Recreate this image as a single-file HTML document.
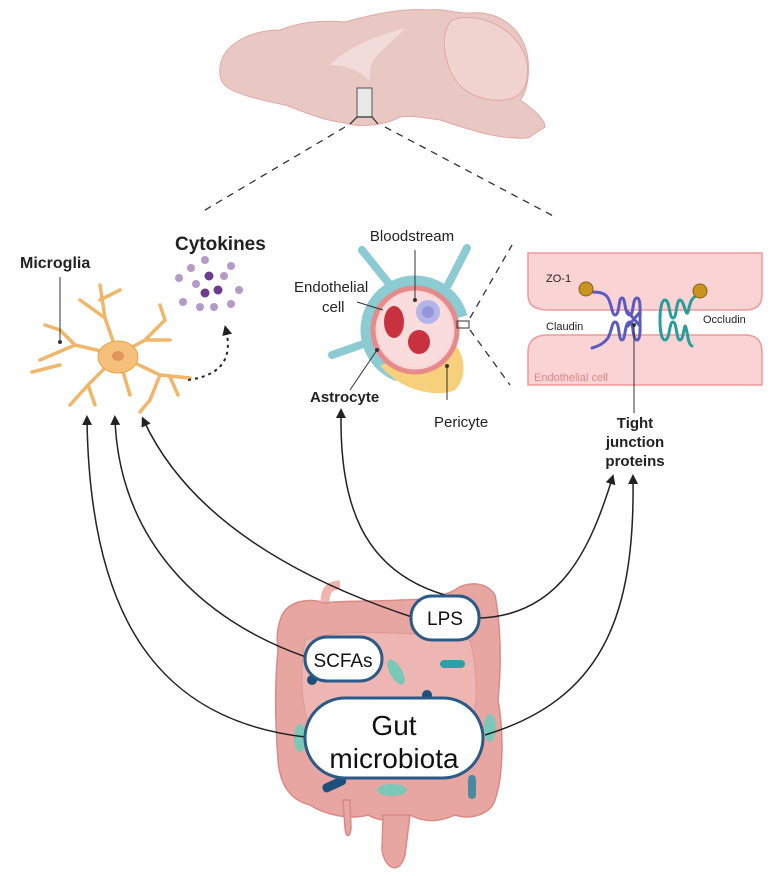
<!DOCTYPE html>
<html><head><meta charset="utf-8"><style>
body{margin:0;background:#fff}
svg{display:block;font-family:"Liberation Sans",sans-serif}
</style></head><body>
<svg width="780" height="876" viewBox="0 0 780 876" xmlns="http://www.w3.org/2000/svg">
<defs><marker id="ah" markerWidth="10" markerHeight="10" refX="5" refY="5" orient="auto" markerUnits="userSpaceOnUse">
<path d="M0,0 L10,5 L0,10 z" fill="#222"/></marker></defs>
<!-- brain -->
<path d="M220,67 C222,45 250,30 280,30 C300,22 320,20 345,22 C370,15 400,8 428,10 C445,8 455,14 470,13 C500,10 525,30 528,60 C530,80 525,95 520,100 C535,110 545,120 545,127 L528,138 C500,140 470,130 440,120 C425,118 410,115 400,117 C385,125 360,128 345,123 C320,120 300,110 285,105 C260,100 240,95 228,88 C220,82 219,75 220,67z" fill="#e9c8c4" stroke="#dfa8a4" stroke-width="1"/>
<path d="M452,20 C480,10 520,30 527,62 C530,85 522,98 505,100 C485,102 460,95 450,70 C442,50 442,30 452,20z" fill="#f0d2cf" stroke="#dfa8a4"/>
<path d="M330,65 C350,45 380,35 405,28 C395,40 380,50 372,62 C368,72 372,78 368,80 C360,70 345,65 330,65z" fill="#f2dcda"/>
<rect x="357" y="88" width="15" height="29" fill="#e8e8e8" stroke="#555" stroke-width="1"/>
<path d="M350,124 L357,117 L372,117 L378,124" fill="none" stroke="#333" stroke-width="1.3"/>
<g stroke="#333" stroke-width="1.3" stroke-dasharray="7,6" fill="none">
<path d="M345,127 L200,213"/><path d="M385,127 L557,218"/>
<path d="M470,318 L512,245"/><path d="M470,330 L510,385"/>
</g>
<!-- microglia -->
<g stroke="#f0b66a" stroke-width="3.5" fill="none" stroke-linecap="round" stroke-linejoin="round">
<path d="M118,355 L105,318 L100,285"/><path d="M105,318 L80,300"/><path d="M100,300 L120,290"/>
<path d="M118,355 L75,345 L40,360"/><path d="M75,345 L60,330 L45,325"/><path d="M60,365 L32,372"/>
<path d="M118,355 L88,385 L70,405"/><path d="M88,385 L95,405"/>
<path d="M118,355 L145,340 L165,320"/><path d="M145,340 L170,340"/><path d="M165,320 L160,305"/>
<path d="M118,355 L160,375 L190,378"/><path d="M160,375 L150,400 L140,412"/><path d="M170,377 L178,395"/>
<path d="M118,355 L130,395"/>
</g>
<ellipse cx="118" cy="357" rx="20" ry="16" fill="#f4c07a" stroke="#e8a450"/>
<ellipse cx="118" cy="356" rx="6" ry="5" fill="#e0955a"/>
<path d="M60,277 L60,342" stroke="#333" stroke-width="1"/><circle cx="60" cy="342" r="2" fill="#333"/>
<text x="20" y="268" font-size="16" font-weight="bold" fill="#222">Microglia</text>
<!-- cytokines -->
<text x="175" y="250" font-size="19" font-weight="bold" fill="#222">Cytokines</text>
<g fill="#b49ac8"><circle cx="205" cy="260" r="4"/><circle cx="231" cy="266" r="4"/><circle cx="191" cy="268" r="4"/><circle cx="224" cy="276" r="4"/><circle cx="179" cy="278" r="4"/><circle cx="196" cy="284" r="4"/><circle cx="239" cy="290" r="4"/><circle cx="183" cy="302" r="4"/><circle cx="200" cy="307" r="4"/><circle cx="214" cy="307" r="4"/><circle cx="231" cy="304" r="4"/></g>
<g fill="#6a3e8c"><circle cx="209" cy="276" r="4.5"/><circle cx="205" cy="293" r="4.5"/><circle cx="218" cy="290" r="4.5"/></g>
<path d="M188,380 C225,375 232,355 226,330" fill="none" stroke="#222" stroke-width="2" stroke-dasharray="3,4" marker-end="url(#ah)"/>
<!-- vessel -->
<g stroke="#8ccbd2" stroke-width="8" fill="none" stroke-linecap="round">
<path d="M362,250 L390,285"/><path d="M467,248 L448,285"/><path d="M332,355 L375,340"/>
</g>
<circle cx="415" cy="330" r="49" fill="none" stroke="#8ccbd2" stroke-width="11" stroke-dasharray="200,110" transform="rotate(110 415 330)"/>
<path d="M380,365 C400,392 440,398 455,390 C470,375 462,350 455,345z" fill="#f6d07a"/>
<circle cx="415" cy="330" r="42" fill="#f8d8d8" stroke="#e88a8a" stroke-width="5"/>
<circle cx="415" cy="330" r="37" fill="#fadcdc"/>
<ellipse cx="394" cy="322" rx="10" ry="16" fill="#c8323e"/>
<ellipse cx="419" cy="342" rx="11" ry="12" fill="#c8323e"/>
<circle cx="428" cy="312" r="12" fill="#b5b4e8"/><circle cx="428" cy="312" r="6" fill="#9695d8"/>
<rect x="457" y="321" width="12" height="7" fill="none" stroke="#333"/>
<text x="412" y="241" font-size="15" fill="#222" text-anchor="middle">Bloodstream</text>
<path d="M415,250 L415,300" stroke="#333"/><circle cx="415" cy="300" r="2" fill="#333"/>
<text x="294" y="292" font-size="15" fill="#222">Endothelial</text>
<text x="322" y="312" font-size="15" fill="#222">cell</text>
<path d="M357,302 L383,310" stroke="#333"/>
<path d="M350,390 L377,350" stroke="#333"/><circle cx="377" cy="350" r="2" fill="#333"/>
<text x="310" y="402" font-size="15" font-weight="bold" fill="#222">Astrocyte</text>
<path d="M447,366 L447,400" stroke="#333"/><circle cx="447" cy="366" r="2" fill="#333"/>
<text x="434" y="427" font-size="15" fill="#222">Pericyte</text>
<!-- tight junction panel -->
<path d="M528,253 L762,253 L762,295 Q762,310 745,310 L548,310 Q528,310 528,295z" fill="#fad4d4" stroke="#ec9a9a" stroke-width="1.5"/>
<path d="M528,385 L528,352 Q528,335 548,335 L745,335 Q762,335 762,352 L762,385z" fill="#fad4d4" stroke="#ec9a9a" stroke-width="1.5"/>
<text x="534" y="381" font-size="11" fill="#d88">Endothelial cell</text>
<g fill="none" stroke="#5a5ac0" stroke-width="3" stroke-linecap="round">
<path d="M592,292 C600,292 605,293 608,298 C612,305 612,315 615,315 C620,315 618,298 622,298 C626,298 624,315 630,315 C634,315 632,298 637,298 C641,298 640,312 640,318"/>
<path d="M592,348 C600,346 605,342 608,338 C612,330 612,322 615,322 C620,322 618,340 622,340 C626,340 624,322 630,322 C634,322 632,340 637,340 C641,340 640,325 640,320"/>
<path d="M628,312 L640,326 M640,312 L628,326"/>
</g>
<g fill="none" stroke="#2a9c9c" stroke-width="3" stroke-linecap="round">
<path d="M698,295 C690,298 690,305 688,312 C686,318 684,300 680,300 C676,300 677,318 673,318 C669,318 670,300 665,300 C661,300 660,312 660,318"/>
<path d="M692,346 C688,344 688,335 686,328 C684,320 684,340 680,340 C676,340 677,322 673,322 C669,322 670,340 665,340 C661,340 660,328 660,320"/>
</g>
<circle cx="586" cy="289" r="7" fill="#c8941e" stroke="#8a6010"/>
<circle cx="700" cy="291" r="7" fill="#c8941e" stroke="#8a6010"/>
<text x="546" y="282" font-size="11" fill="#222">ZO-1</text>
<text x="546" y="330" font-size="11" fill="#222">Claudin</text>
<text x="703" y="323" font-size="11" fill="#222">Occludin</text>
<path d="M634,325 L634,413" stroke="#333"/><circle cx="634" cy="325" r="2" fill="#333"/>
<text x="635" y="428" font-size="15" font-weight="bold" fill="#222" text-anchor="middle">Tight</text>
<text x="635" y="447" font-size="15" font-weight="bold" fill="#222" text-anchor="middle">junction</text>
<text x="635" y="466" font-size="15" font-weight="bold" fill="#222" text-anchor="middle">proteins</text>
<!-- gut -->
<g fill="#e8a6a2" stroke="#d98a86" stroke-width="1.5">
<path d="M282,615 C290,600 310,598 325,603 C345,600 370,602 400,600 C420,600 440,598 455,590 C465,582 485,580 495,595 C500,620 502,660 498,700 C505,740 502,780 495,800 C490,815 470,820 455,815 C440,822 425,823 410,815 C395,822 380,822 368,815 C350,820 325,815 310,805 C290,800 280,785 278,760 C275,720 275,680 278,650 C276,635 278,625 282,615z"/>
<path d="M383,815 L382,850 C385,870 400,875 405,855 L410,815z"/>
<path d="M343,800 L345,828 C346,838 350,838 351,828 L350,800z"/>
</g>
<g fill="#eeb6b2" stroke="#dc9894"><path d="M305,640 C330,630 400,630 470,640 C478,670 478,700 472,730 C430,740 350,740 310,730 C300,700 300,670 305,640z"/></g>
<path d="M325,602 C325,590 330,585 340,585" stroke="#efb4b0" stroke-width="9" fill="none"/>
<rect x="440" y="660" width="25" height="8" rx="4" fill="#2aa0a8"/>
<ellipse cx="396" cy="672" rx="6" ry="14" fill="#7ac8b8" transform="rotate(-30 396 672)"/>
<ellipse cx="300" cy="738" rx="6" ry="14" fill="#7ac8b8"/>
<ellipse cx="490" cy="728" rx="6" ry="14" fill="#7ac8b8"/>
<ellipse cx="392" cy="790" rx="15" ry="6" fill="#7ac8b8"/>
<rect x="322" y="780" width="25" height="9" rx="4" fill="#1e4e7a" transform="rotate(-25 334 785)"/>
<rect x="468" y="775" width="8" height="24" rx="4" fill="#4a8aa0"/>
<circle cx="312" cy="680" r="5" fill="#1e4e7a"/><circle cx="427" cy="695" r="5" fill="#1e4e7a"/>
<!-- arrows -->
<g fill="none" stroke="#222" stroke-width="1.5" marker-end="url(#ah)">
<path d="M305,737 C160,720 90,620 87,420"/>
<path d="M306,657 C200,620 120,540 115,420"/>
<path d="M412,617 C300,580 190,520 144,421"/>
<path d="M445,595 C360,570 340,500 341,413"/>
<path d="M480,618 C560,615 590,550 612,479"/>
<path d="M485,735 C600,700 635,620 633,479"/>
</g>
<!-- boxes -->
<g fill="#fff" stroke="#2a5a88" stroke-width="3">
<rect x="411" y="596" width="68" height="44" rx="21"/>
<rect x="305" y="637" width="77" height="44" rx="22"/>
<rect x="305" y="698" width="178" height="80" rx="40"/>
</g>
<text x="445" y="625" font-size="19" text-anchor="middle" fill="#111">LPS</text>
<text x="343" y="667" font-size="19" text-anchor="middle" fill="#111">SCFAs</text>
<text x="394" y="735" font-size="28" text-anchor="middle" fill="#111">Gut</text>
<text x="394" y="768" font-size="28" text-anchor="middle" fill="#111">microbiota</text>
</svg>
</body></html>
